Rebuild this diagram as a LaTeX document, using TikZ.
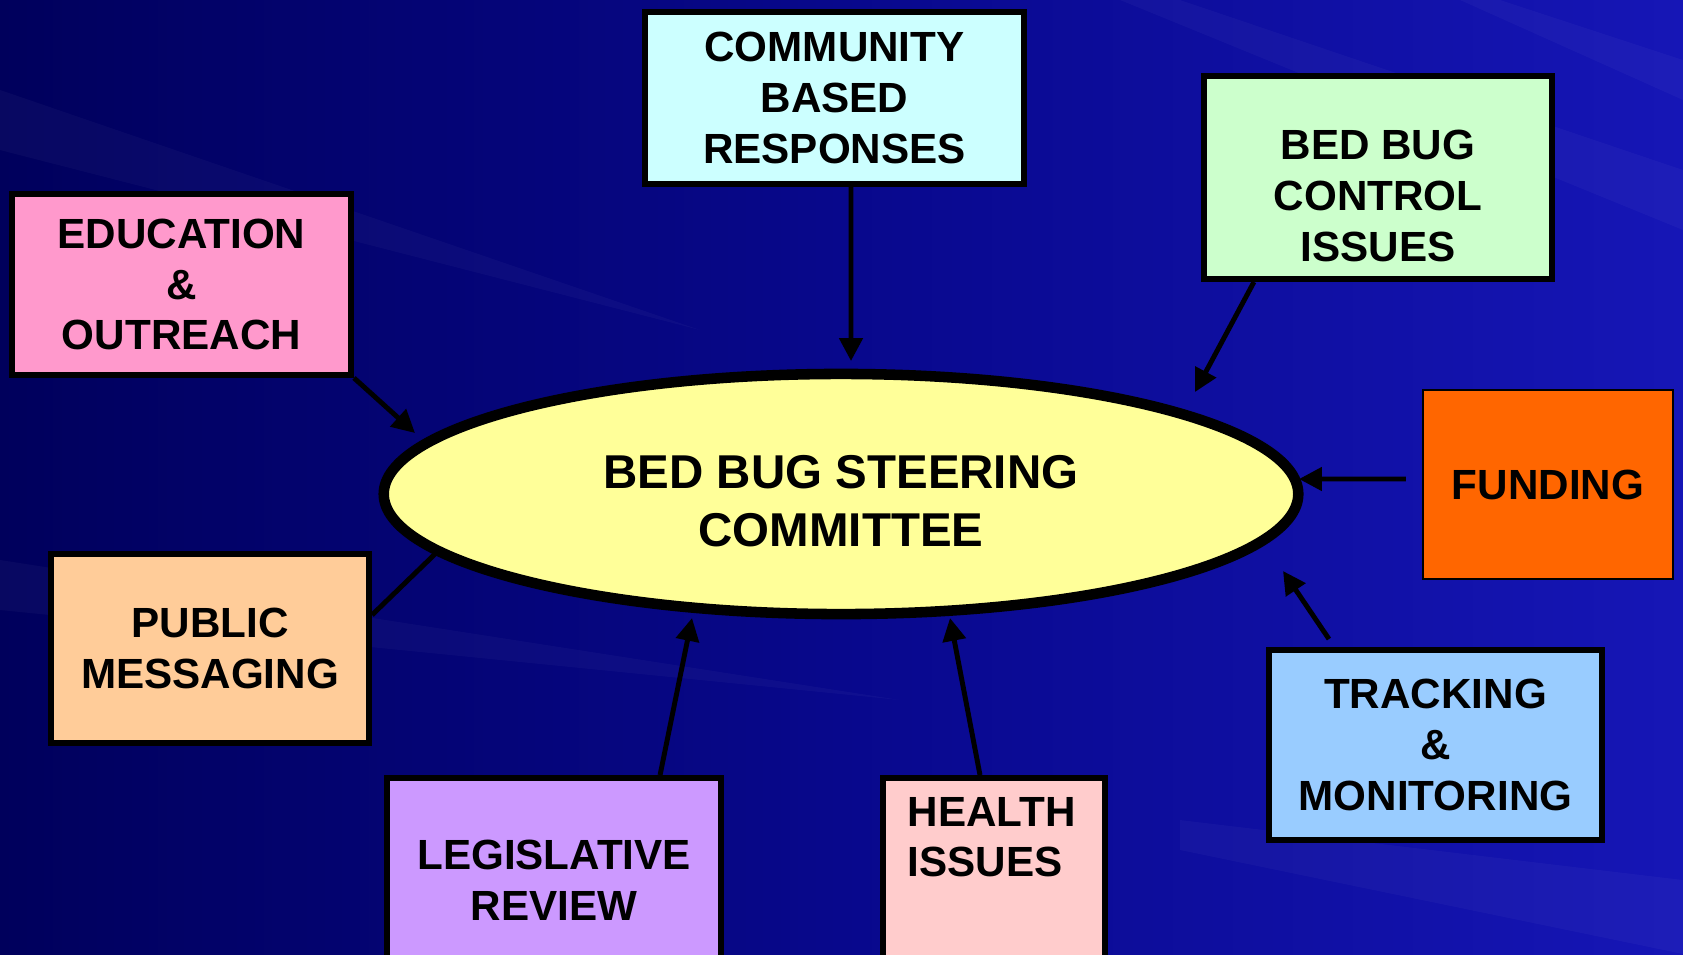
\documentclass[tikz,border=0pt]{standalone}
\usepackage{fontspec}
\setmainfont{Liberation Sans}
\usetikzlibrary{shapes,arrows.meta}
\definecolor{bg_dark}{RGB}{0,0,92}
\definecolor{bg_mid}{RGB}{8,8,140}
\definecolor{bg_light}{RGB}{22,22,182}
\definecolor{col_comm}{RGB}{204,255,255}
\definecolor{col_ctrl}{RGB}{204,255,204}
\definecolor{col_edu}{RGB}{255,153,204}
\definecolor{col_fund}{RGB}{255,102,0}
\definecolor{col_pub}{RGB}{255,204,153}
\definecolor{col_leg}{RGB}{204,153,255}
\definecolor{col_health}{RGB}{255,204,204}
\definecolor{col_track}{RGB}{153,204,255}
\definecolor{col_steer}{RGB}{255,255,153}
\tikzstyle{node_box} = [rectangle, draw, line width=1.8pt, inner sep=0pt, align=center, font=\bfseries\fontsize{12}{14.4}\selectfont]
\tikzstyle{node_text} = [inner sep=0pt, font=\bfseries\fontsize{12}{14.4}\selectfont]
\tikzstyle{node_steer} = [ellipse, draw, line width=3pt, fill=col_steer, inner sep=0pt, minimum width=9.14cm, minimum height=2.4cm]
\tikzstyle{edge_arrow} = [line width=1.4pt, -{Triangle[length=6.5pt,width=6.5pt]}]
\tikzstyle{edge_plain} = [line width=1.4pt]
\tikzstyle{streak} = [white, opacity=0.03]

\begin{document}
\begin{tikzpicture}[x=0.01cm, y=-0.01cm]
			\clip (0,0) rectangle (1683,954);
			% background
			\shade[left color=bg_dark, right color=bg_light, middle color=bg_mid] (0,0) rectangle (1683,954);
			\fill[streak] (1180,0) -- (1683,170) -- (1683,230) -- (1120,0) -- cycle;
			\fill[streak] (0,90) -- (700,330) -- (0,150) -- cycle;
			\fill[streak] (1180,820) -- (1683,880) -- (1683,954) -- (1180,850) -- cycle;
			\fill[streak] (0,560) -- (900,700) -- (0,610) -- cycle;
			\fill[streak] (1500,0) -- (1683,60) -- (1683,100) -- (1460,0) -- cycle;
			% nodes
			\node (steer) at (841,494) [node_steer] {};
			\node (steer_text) at (841,501) [node_text, align=center, font=\bfseries\fontsize{13.5}{16.5}\selectfont] {BED BUG STEERING\\COMMITTEE};
			\node (comm) at (834.5,98) [node_box, fill=col_comm, minimum width=3.785cm, minimum height=1.715cm] {COMMUNITY\\BASED\\RESPONSES};
			\node (ctrl) at (1378,177.5) [node_box, fill=col_ctrl, minimum width=3.475cm, minimum height=2.025cm] {};
			\node (ctrl_text) at (1378,196) [node_text, align=center] {BED BUG\\CONTROL\\ISSUES};
			\node (edu) at (181.5,284.5) [node_box, fill=col_edu, minimum width=3.385cm, minimum height=1.805cm] {EDUCATION\\\&\\OUTREACH};
			\node (fund) at (1548,484.5) [node_box, fill=col_fund, line width=0.6pt, minimum width=2.5cm, minimum height=1.89cm] {FUNDING};
			\node (pub) at (210,648.5) [node_box, fill=col_pub, minimum width=3.175cm, minimum height=1.885cm] {PUBLIC\\MESSAGING};
			\node (leg) at (554,880) [node_box, fill=col_leg, minimum width=3.335cm, minimum height=2.035cm] {LEGISLATIVE\\REVIEW};
			\node (health) at (994,880) [node_box, fill=col_health, minimum width=2.215cm, minimum height=2.035cm] {};
			\node (health_text) at (907,837) [node_text, anchor=west, align=left] {HEALTH\\ISSUES};
			\node (track) at (1435.5,745) [node_box, fill=col_track, minimum width=3.325cm, minimum height=1.895cm] {TRACKING\\\&\\MONITORING};
			% arrow tips
			\coordinate (tip_comm) at (851,361);
			\coordinate (tip_ctrl) at (1195,392);
			\coordinate (tip_edu) at (415,433);
			\coordinate (tip_fund) at (1299,479);
			\coordinate (tip_track) at (1283,571);
			\coordinate (tip_health) at (950,618);
			\coordinate (tip_leg) at (692,618);
			\coordinate (tip_pub) at (435,554);
			% connectors
			\draw[edge_arrow] ([xshift=0.165cm]comm.south)--(tip_comm);
			\draw[edge_arrow] ([xshift=-1.24cm]ctrl.south)--(tip_ctrl);
			\draw[edge_arrow] (edu.south east)--(tip_edu);
			\draw[edge_arrow] ([xshift=-0.16cm,yshift=0.055cm]fund.west)--(tip_fund);
			\draw[edge_arrow] ([xshift=-1.065cm,yshift=0.08cm]track.north)--(tip_track);
			\draw[edge_arrow] ([xshift=-0.14cm]health.north)--(tip_health);
			\draw[edge_arrow] ([xshift=1.06cm]leg.north)--(tip_leg);
			\draw[edge_plain] ([yshift=0.335cm]pub.east)--(tip_pub);
		\end{tikzpicture}
\end{document}
